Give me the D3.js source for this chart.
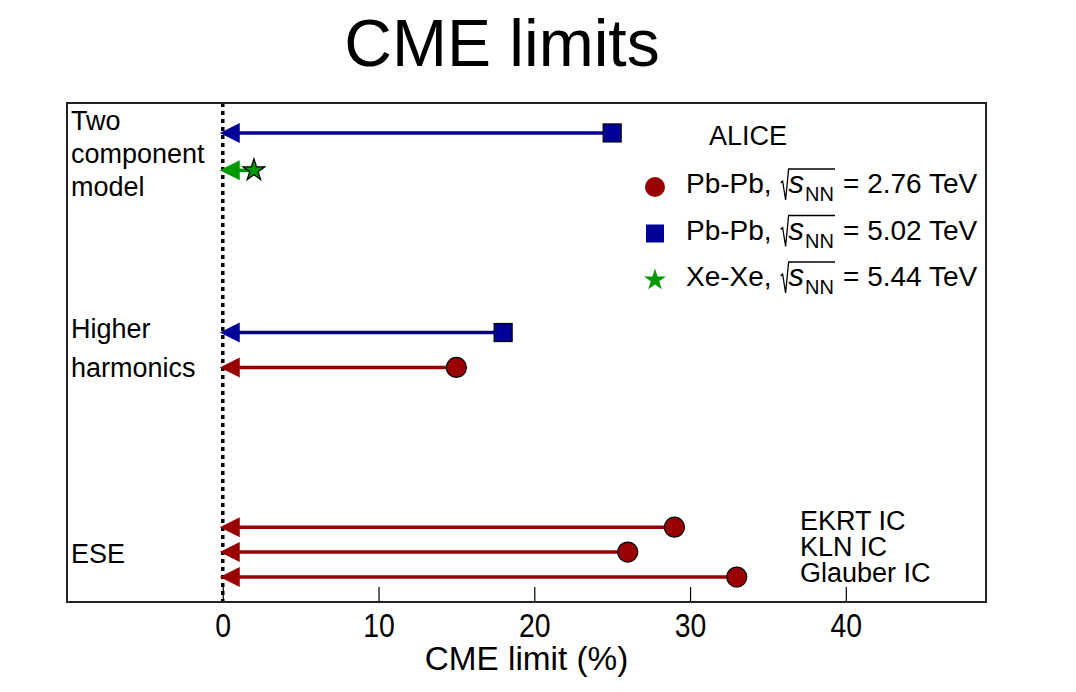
<!DOCTYPE html>
<html>
<head>
<meta charset="utf-8">
<script src="https://cdn.jsdelivr.net/npm/d3@7"></script>
<style>
  html, body { margin: 0; padding: 0; background: #fff; }
  svg { display: block; }
  text { font-family: "Liberation Sans", Arial, Helvetica, sans-serif; fill: #000; }
</style>
</head>
<body>
<svg id="chart" width="1076" height="692"></svg>
<script>
// CME upper limits from several ALICE analyses
const systemNames = ["Pb-Pb", "Pb-Pb", "Xe-Xe"];
const systemEnergies = ["2.76", "5.02", "5.44"];
const systemColors = ["#990000", "#000099", "#009900"];
const systemShapes = ["circle", "square", "star"];

// each limit: vertical row position, limit value (%), collision system index
const limitRow = [18.8, 17.3, 10.8, 9.4, 3, 2, 1];
const limitValue = [25, 2, 18, 15, 29, 26, 33];
const limitSystem = [1, 2, 1, 0, 0, 0, 0];

const xTickValues = [0, 10, 20, 30, 40];

// method group labels (lines) and their row positions
const methodLines = [["Two", "component", "model"], ["Higher", "harmonics"], ["ESE"]];
const methodRows = [[19.28, 17.96, 16.63], [10.94, 9.38], [1.92]];

// initial-condition labels for the ESE limits
const icLabels = ["EKRT IC", "KLN IC", "Glauber IC"];
const icRows = [3.25, 2.2, 1.16];

const svg = d3.select("#chart");
const frame = { left: 67, right: 986, top: 103, bottom: 602 };

const x = d3.scaleLinear().domain([-10, 49]).range([frame.left, frame.right]);
const y = d3.scaleLinear().domain([0, 20]).range([frame.bottom, frame.top]);

// title
svg.append("text")
  .attr("x", 502).attr("y", 66)
  .attr("text-anchor", "middle")
  .style("font-size", "66px")
  .text("CME limits");

// zero reference line
svg.append("line")
  .attr("x1", x(0)).attr("x2", x(0))
  .attr("y1", frame.top).attr("y2", frame.bottom)
  .attr("stroke", "#000").attr("stroke-width", 3.5)
  .attr("stroke-dasharray", "4,4");

// x axis (condensed labels)
const xAxis = d3.axisBottom(x).tickValues(xTickValues).tickSize(0).tickPadding(0);
const gx = svg.append("g").attr("transform", `translate(0,${frame.bottom})`).call(xAxis);
gx.select(".domain").remove();
gx.selectAll(".tick text")
  .attr("y", 0)
  .attr("dy", 0)
  .attr("transform", "translate(0,35) scale(0.86,1)")
  .style("font-family", "'Liberation Sans', Arial, sans-serif")
  .style("font-size", "33px");
gx.selectAll(".tick").append("line")
  .attr("y1", 0).attr("y2", -15)
  .attr("stroke", "#000").attr("stroke-width", 1.2);

svg.append("text")
  .attr("text-anchor", "middle")
  .attr("transform", `translate(${x(19.5)},670) scale(0.98,1)`)
  .style("font-size", "34px")
  .text("CME limit (%)");

// marker helpers
const starPath = d3.symbol().type(d3.symbolStar);
function drawMarker(g, shape, cx, cy, color, outlined) {
  let m;
  if (shape === "circle") {
    m = g.append("circle").attr("cx", cx).attr("cy", cy).attr("r", 10);
  } else if (shape === "square") {
    m = g.append("rect").attr("x", cx - 9).attr("y", cy - 9).attr("width", 18).attr("height", 18);
  } else {
    m = g.append("path").attr("d", starPath.size(150)()).attr("transform", `translate(${cx},${cy})`);
  }
  m.attr("fill", color);
  if (outlined) m.attr("stroke", "#000").attr("stroke-width", 1.2);
  else m.attr("stroke", "none");
}

// limit arrows
const arrows = svg.append("g");
limitValue.forEach((v, i) => {
  const s = limitSystem[i];
  const col = systemColors[s];
  const cy = y(limitRow[i]);
  const x0 = x(0);
  arrows.append("line")
    .attr("x1", x(v)).attr("x2", x0 + 10)
    .attr("y1", cy).attr("y2", cy)
    .attr("stroke", col).attr("stroke-width", 3.5);
  arrows.append("path")
    .attr("d", `M${x0 - 3},${cy} L${x0 + 17},${cy - 10} L${x0 + 17},${cy + 10} Z`)
    .attr("fill", col);
  drawMarker(arrows, systemShapes[s], x(v), cy, col, true);
});

// method labels
methodLines.forEach((lines, gi) => {
  lines.forEach((t, li) => {
    svg.append("text")
      .attr("x", 71).attr("y", y(methodRows[gi][li]) + 9)
      .style("font-size", "27px")
      .text(t);
  });
});

icLabels.forEach((t, i) => {
  svg.append("text")
    .attr("x", 800).attr("y", y(icRows[i]) + 9)
    .style("font-size", "27px")
    .text(t);
});

// frame
svg.append("rect")
  .attr("x", frame.left).attr("y", frame.top)
  .attr("width", frame.right - frame.left).attr("height", frame.bottom - frame.top)
  .attr("fill", "none").attr("stroke", "#222").attr("stroke-width", 2);

// legend
const legend = svg.append("g");
legend.append("text")
  .attr("x", 709).attr("y", 145)
  .style("font-size", "27px")
  .text("ALICE");

systemNames.forEach((name, i) => {
  const base = 193 + i * 46.5;
  drawMarker(legend, systemShapes[i], 655, base - 6, systemColors[i], false);
  const t1 = legend.append("text").attr("x", 686).attr("y", base)
    .style("font-size", "28px").text(name + ",");
  const rx = 686 + t1.node().getComputedTextLength() + 9;
  // radical sign with overbar
  const top = base - 24;
  const sx = rx + 8;
  const sEl = legend.append("text").attr("x", sx).attr("y", base)
    .style("font-size", "31px").style("font-style", "italic").text("s");
  const sw = sEl.node().getComputedTextLength();
  const nx = sx + sw + 1;
  const nn = legend.append("text").attr("x", nx).attr("y", base + 8)
    .style("font-size", "20px").text("NN");
  const barEnd = nx + nn.node().getComputedTextLength() + 1;
  legend.append("path")
    .attr("d", `M${rx},${base - 10} L${rx + 2},${base - 12} L${rx + 5},${base + 7} L${rx + 8},${top} L${barEnd},${top}`)
    .attr("fill", "none").attr("stroke", "#000").attr("stroke-width", 1.3);
  legend.append("text").attr("x", barEnd + 8).attr("y", base)
    .style("font-size", "28px").text("= " + systemEnergies[i] + " TeV");
});
</script>
</body>
</html>
